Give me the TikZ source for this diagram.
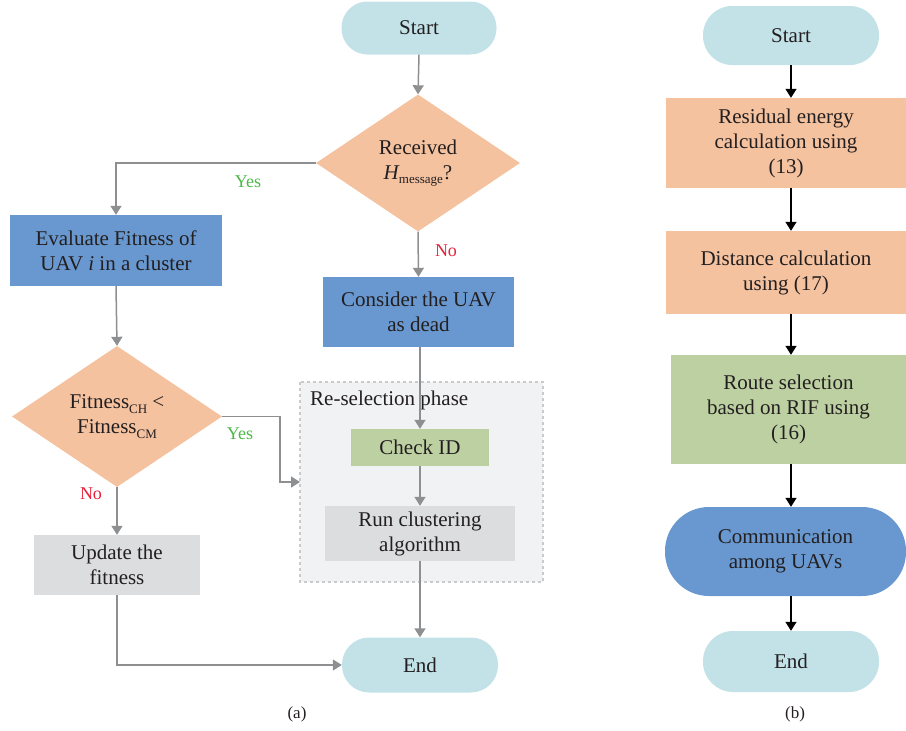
\documentclass[tikz,border=0pt]{standalone}
\usepackage{fontspec}
\setmainfont{Liberation Serif}
\usetikzlibrary{shapes.geometric,arrows.meta}

\definecolor{termblue}{HTML}{C2E2E8}
\definecolor{salmon}{HTML}{F5C29F}
\definecolor{boxblue}{HTML}{6898CF}
\definecolor{boxgreen}{HTML}{BDD0A2}
\definecolor{boxgray}{HTML}{DCDDDF}
\definecolor{phasefill}{HTML}{F1F2F4}
\definecolor{phaseline}{HTML}{C9CACC}
\definecolor{arrowgray}{HTML}{8E8F91}
\definecolor{yesgreen}{HTML}{4DB848}
\definecolor{nored}{HTML}{E8213B}
\definecolor{txt}{HTML}{231F20}

\newcommand{\lowsub}[1]{\raisebox{-0.45ex}{\fontsize{13}{13}\selectfont #1}}

\tikzset{
  box/.style={rectangle, inner sep=0pt, align=center, text=txt,
              font=\fontsize{21}{25}\selectfont},
  terminal/.style={box, fill=termblue},
  decision/.style={diamond, inner sep=0pt, align=center, text=txt, fill=salmon,
              font=\fontsize{21}{25}\selectfont},
  garrow/.style={draw=arrowgray, line width=1.5pt, -{Triangle[width=11pt,length=9pt]}},
  barrow/.style={draw=black, line width=1.5pt, -{Triangle[width=11pt,length=9pt]}},
  lbl/.style={font=\fontsize{18}{20}\selectfont, inner sep=0pt},
  captxt/.style={font=\fontsize{17}{20}\selectfont, inner sep=0pt, text=txt},
}

\begin{document}
\begin{tikzpicture}[x=1pt,y=-1pt]
\useasboundingbox (0,0) rectangle (906,731);

% ---------- panel (a) ----------
\node[terminal, minimum width=155pt, minimum height=53pt, rounded corners=26pt] (start) at (419,28) {Start};
\node[decision, minimum width=204pt, minimum height=137pt] (recv) at (418,163) {Received\\{\itshape H}\lowsub{message}?};
\node[box, fill=boxblue, minimum width=212pt, minimum height=71pt] (eval) at (116,250.5) {Evaluate Fitness of\\UAV {\itshape i} in a cluster};
\node[box, fill=boxblue, minimum width=191pt, minimum height=70pt] (cons) at (418.5,312) {Consider the UAV\\as dead};

\draw[draw=phaseline, fill=phasefill, line width=1.2pt, dashed] (300,382) rectangle (543,582);
\node[box, anchor=west] (phase) at (310,400) {Re-selection phase};
\coordinate (phasewest) at (300,482);

\node[box, fill=boxgreen, minimum width=138pt, minimum height=37pt] (check) at (420,447.5) {Check ID};
\node[box, fill=boxgray, minimum width=190pt, minimum height=55pt] (run) at (420,533.5) {Run clustering\\algorithm};
\node[terminal, minimum width=156pt, minimum height=55pt, rounded corners=27pt] (end) at (420,665) {End};

\node[decision, minimum width=210pt, minimum height=141pt] (fit) at (117,416.5) {Fitness\lowsub{CH} <\\Fitness\lowsub{CM}};
\node[box, fill=boxgray, minimum width=166pt, minimum height=60pt] (upd) at (117,565) {Update the\\fitness};

\draw[garrow] (start.south) -- (recv.north);
\draw[garrow] (recv.west) -| (eval.north);
\node[lbl, text=yesgreen] (yes1) at (248,182) {Yes};
\draw[garrow] (recv.south) -- (cons.north);
\node[lbl, text=nored] (no1) at (446,251) {No};
\draw[garrow] (check.north |- cons.south) -- (check.north);
\draw[garrow] (check.south) -- (run.north);
\draw[garrow] (run.south) -- (end.north);
\draw[garrow] (eval.south) -- (fit.north);
\coordinate (yb) at (280,482);
\draw[garrow] (fit.east) -| (yb) -- (phasewest);
\node[lbl, text=yesgreen] (yes2) at (240,434) {Yes};
\draw[garrow] (fit.south) -- (upd.north);
\node[lbl, text=nored] (no2) at (91,494) {No};
\draw[garrow] (upd.south) |- (end.west);

\node[captxt] (capa) at (297,714) {(a)};

% ---------- panel (b) ----------
\node[terminal, minimum width=176pt, minimum height=59pt, rounded corners=29pt] (s2) at (791,35.5) {Start};
\node[box, fill=salmon, minimum width=240pt, minimum height=90pt] (res) at (786,143) {Residual energy\\calculation using\\(13)};
\node[box, fill=salmon, minimum width=240pt, minimum height=83pt] (dist) at (786,272.5) {Distance calculation\\using (17)};
\node[box, fill=boxgreen, minimum width=235pt, minimum height=109pt] (route) at (788.5,409.5) {Route selection\\based on RIF using\\(16)};
\node[box, fill=boxblue, minimum width=241pt, minimum height=89pt, rounded corners=44pt] (comm) at (785.5,551.5) {Communication\\among UAVs};
\node[terminal, minimum width=176pt, minimum height=61pt, rounded corners=30pt] (e2) at (791,661.5) {End};

\draw[barrow] (s2.south) -- (s2.south |- res.north);
\draw[barrow] (s2.south |- res.south) -- (s2.south |- dist.north);
\draw[barrow] (s2.south |- dist.south) -- (s2.south |- route.north);
\draw[barrow] (s2.south |- route.south) -- (s2.south |- comm.north);
\draw[barrow] (s2.south |- comm.south) -- (e2.north);

\node[captxt] (capb) at (795,714) {(b)};
\end{tikzpicture}
\end{document}
